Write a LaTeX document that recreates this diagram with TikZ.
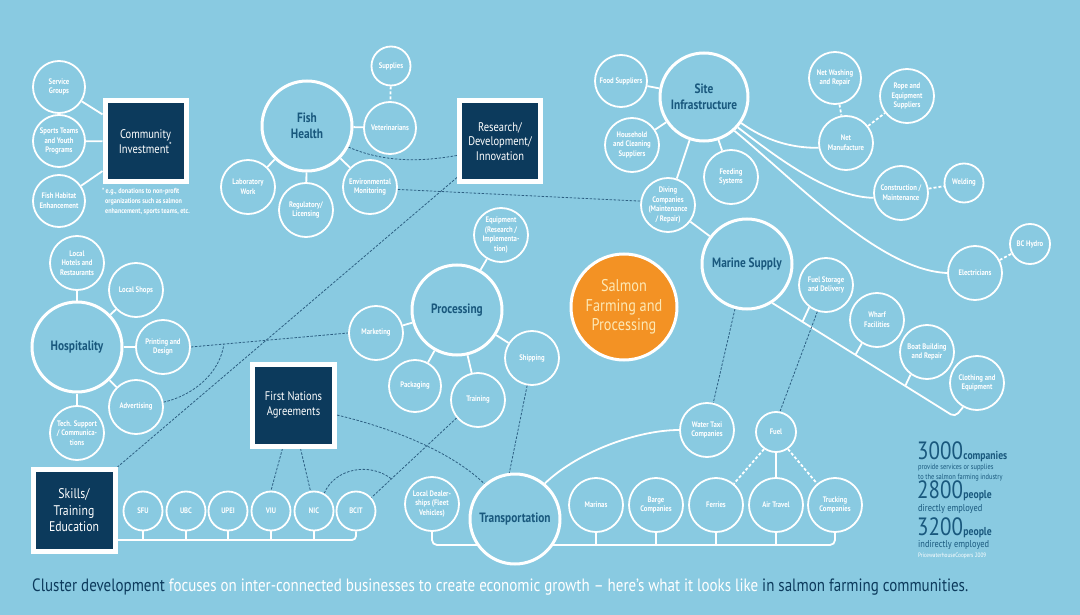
\documentclass[tikz,border=0pt]{standalone}
\usepackage{fontspec}
\setmainfont{PT Sans}[FakeStretch=0.84]
\newfontfamily\capfont{PT Sans}[FakeStretch=0.84,Ligatures=TeX]
\usetikzlibrary{calc}
\definecolor{bgc}{RGB}{137,202,225}
\definecolor{navy}{RGB}{12,58,92}
\definecolor{ttl}{RGB}{25,88,125}
\definecolor{orng}{RGB}{243,146,36}
\definecolor{cream}{RGB}{253,232,180}
\definecolor{dsh}{RGB}{45,95,130}
\pgfdeclarelayer{back}\pgfdeclarelayer{lines}\pgfsetlayers{back,lines,main}
\tikzset{
 smallnode/.style={circle,draw=white,line width=1.8pt,fill=bgc,minimum size=54pt,inner sep=0pt,align=center,text=white,font=\fontsize{8}{9.6}\selectfont\bfseries},
 tinynode/.style={smallnode,minimum size=39pt},
 bignode/.style={circle,draw=white,line width=3pt,fill=bgc,minimum size=90pt,inner sep=0pt,align=center,text=ttl,font=\fontsize{13.5}{15.5}\selectfont\bfseries},
 navybox/.style={rectangle,draw=white,fill=navy,line width=5pt,minimum size=81pt,inner sep=0pt,align=center,text=white,font=\fontsize{12.5}{14.5}\selectfont},
 conn/.style={draw=white,line width=1.8pt},
 wdash/.style={draw=white,line width=1.8pt,dash pattern=on 3pt off 2pt},
 dconn/.style={draw=dsh,line width=0.8pt,dash pattern=on 2.5pt off 1.5pt},
 stat/.style={anchor=base west,inner sep=0pt,text=ttl,text depth=0pt},
}
\begin{document}
\begin{tikzpicture}[x=1pt,y=-1pt]
\begin{pgfonlayer}{back}
\fill[bgc] (0,0) rectangle (1080,615);
\end{pgfonlayer}
\useasboundingbox (0,0) rectangle (1080,615);

% community
\node[smallnode,minimum size=52pt] (sg) at (59,87) {Service\\Groups};
\node[smallnode,minimum size=52pt] (st) at (59,141) {Sports Teams\\and Youth\\Programs};
\node[smallnode,minimum size=52pt] (fhe) at (59,201) {Fish Habitat\\Enhancement};
\node[navybox] (ci) at (145.5,141.5) {Community\\Investment\textsuperscript{*}};
\node[anchor=north west,align=left,text=white,font=\fontsize{7.3}{9.8}\selectfont\bfseries,inner sep=0pt] (note) at (102,188) {*\,e.g., donations to non-profit\\\hspace*{3pt}organizations such as salmon\\\hspace*{3pt}enhancement, sports teams, etc.};

% fish health
\node[bignode] (fish) at (307,126) {Fish\\Health};
\node[tinynode] (sup) at (391,66) {Supplies};
\node[smallnode,minimum size=52pt] (vet) at (390,128) {Veterinarians};
\node[smallnode] (lab) at (248,187) {Laboratory\\Work};
\node[smallnode] (reg) at (306,210) {Regulatory/\\Licensing};
\node[smallnode] (env) at (370,187) {Environmental\\Monitoring};
\node[navybox] (rd) at (500,141.5) {Research/\\Development/\\Innovation};

% site infrastructure
\node[bignode,minimum size=88pt] (si) at (704,97) {Site\\Infrastructure};
\node[smallnode,minimum size=52pt] (food) at (621,81) {Food Suppliers};
\node[smallnode] (hh) at (632,145) {Household\\and Cleaning\\Suppliers};
\node[smallnode] (feed) at (731,177) {Feeding\\Systems};
\node[smallnode] (div) at (668,205) {Diving\\Companies\\(Maintenance\\/ Repair)};
\node[smallnode,minimum size=52pt] (nw) at (835,78) {Net Washing\\and Repair};
\node[smallnode] (rope) at (907,96) {Rope and\\Equipment\\Suppliers};
\node[smallnode] (nm) at (846,143) {Net\\Manufacture};
\node[smallnode] (cm) at (901,193) {Construction /\\Maintenance};
\node[tinynode] (weld) at (964,183) {Welding};
\node[tinynode,minimum size=40pt] (bch) at (1030,244) {BC Hydro};
\node[smallnode] (ele) at (975,273) {Electricians};

% marine supply
\node[bignode] (ms) at (747,264) {Marine Supply};
\node[smallnode] (fs) at (826,285) {Fuel Storage\\and Delivery};
\node[smallnode] (wh) at (877,320) {Wharf\\Facilities};
\node[smallnode] (bb) at (927,352) {Boat Building\\and Repair};
\node[smallnode] (ce) at (977,383) {Clothing and\\Equipment};

% centre
\node[circle,fill=orng,draw=white,line width=3pt,minimum size=106pt,inner sep=0pt,align=center,text=cream,font=\fontsize{17}{19.5}\selectfont] (sal) at (624,307) {Salmon\\Farming and\\Processing};

% processing
\node[bignode] (proc) at (457,310) {Processing};
\node[smallnode] (equ) at (501,235) {Equipment\\(Research /\\Implementa-\\tion)};
\node[smallnode] (mkt) at (376,333) {Marketing};
\node[smallnode,minimum size=52pt] (pack) at (415,386) {Packaging};
\node[smallnode] (trn) at (478,400) {Training};
\node[smallnode] (ship) at (532,358) {Shipping};

% hospitality
\node[bignode] (hosp) at (77,347) {Hospitality};
\node[smallnode] (hot) at (77,263) {Local\\Hotels and\\Restaurants};
\node[smallnode] (shop) at (136,290) {Local Shops};
\node[smallnode] (prt) at (163,347) {Printing and\\Design};
\node[smallnode] (adv) at (136,407) {Advertising};
\node[smallnode] (tech) at (77,433) {Tech. Support\\/ Communica-\\tions};

% first nations, skills
\node[navybox,minimum size=82pt] (fn) at (293.5,405) {First Nations\\Agreements};
\node[navybox,minimum size=82pt,font=\fontsize{14}{16.5}\selectfont] (sk) at (74,510.5) {Skills/\\Training\\Education};
\node[tinynode] (sfu) at (143,511) {SFU};
\node[tinynode] (ubc) at (186,511) {UBC};
\node[tinynode] (upei) at (228,511) {UPEI};
\node[tinynode] (viu) at (271,511) {VIU};
\node[tinynode] (nic) at (314,511) {NIC};
\node[tinynode] (bcit) at (356,511) {BCIT};

% transportation
\node[bignode] (tr) at (515,519) {Transportation};
\node[smallnode] (ld) at (432,504) {Local Dealer-\\ships (Fleet\\Vehicles)};
\node[smallnode] (mar) at (596,505) {Marinas};
\node[smallnode] (bar) at (656,505) {Barge\\Companies};
\node[smallnode] (fer) at (716,505) {Ferries};
\node[smallnode] (air) at (776,505) {Air Travel};
\node[smallnode] (trk) at (835,505) {Trucking\\Companies};
\node[smallnode] (wt) at (707,430) {Water Taxi\\Companies};
\node[tinynode,minimum size=40pt] (fuel) at (776,432) {Fuel};

% stats
\node[stat] (s1) at (917,459) {\fontsize{25}{25}\selectfont 3000\kern0.5pt\fontsize{11.5}{12}\selectfont\bfseries companies};
\node[stat,font=\fontsize{7.6}{8}\selectfont,text height=5pt] (s2) at (918,469.5) {provide services or supplies};
\node[stat,font=\fontsize{7.6}{8}\selectfont,text height=5pt] (s3) at (918,479) {to the salmon farming industry};
\node[stat] (s4) at (917,498.5) {\fontsize{25}{25}\selectfont 2800\kern0.5pt\fontsize{11.5}{12}\selectfont\bfseries people};
\node[stat,font=\fontsize{10}{11}\selectfont,text height=7pt] (s5) at (918,511.5) {directly employed};
\node[stat] (s6) at (917,535) {\fontsize{25}{25}\selectfont 3200\kern0.5pt\fontsize{11.5}{12}\selectfont\bfseries people};
\node[stat,font=\fontsize{10}{11}\selectfont,text height=7pt] (s7) at (918,547.5) {indirectly employed};
\node[stat,text=white,font=\fontsize{6.3}{7}\selectfont,text height=4.5pt] (s8) at (918,557.5) {PricewaterhouseCoopers 2009};

% caption
\node[anchor=base west,inner sep=0pt] (cap) at (32,591) {\resizebox{936pt}{!}{\capfont\fontsize{14}{16}\selectfont\textcolor{navy}{Cluster development} \textcolor{white}{focuses on inter-connected businesses to create economic growth – here’s what it looks like} \textcolor{navy}{in salmon farming communities.}}};

\begin{pgfonlayer}{lines}
% community
\draw[conn] (sg) -- (ci);
\draw[conn] (st) -- (ci);
\draw[conn] (fhe) -- (ci);
% fish health
\draw[conn] (fish) -- (vet);
\draw[conn] (fish) -- (lab);
\draw[conn] (fish) -- (reg);
\draw[conn] (fish) -- (env);
\draw[wdash] (sup) -- (vet);
\draw[dconn] (fish.-27) .. controls (390,165) and (430,160) .. ($(rd.west)+(0,14)$);
\draw[dconn] (env.-5) -- (div.172);
\draw[dconn] ($(rd.south west)+(0,-7)$) -- (sk.north east);
% site
\draw[conn] (si) -- (food);
\draw[conn] (si) -- (hh);
\draw[conn] (si) -- (feed);
\draw[conn] (si) -- (div);
\draw[conn] (div) -- (ms);
\draw[conn] (si.-35) .. controls (765,140) and (790,148) .. (nm.190);
\draw[conn] (si.-42) .. controls (780,160) and (830,197) .. (cm.190);
\draw[conn] (si.-48) .. controls (800,185) and (880,270) .. (ele.west);
\draw[wdash] (nw) -- (nm);
\draw[wdash] (nm) -- (rope);
\draw[wdash] (cm) -- (weld);
\draw[wdash] (ele) -- (bch);
% marine
\coordinate (mE) at (955,417);
\draw[conn,rounded corners=5pt] (ms.-57) -- (mE) -- (ce.-120);
\draw[conn] ($(ms.-57)!0.165!(mE)$) -- (fs.233);
\draw[conn] ($(ms.-57)!0.455!(mE)$) -- (wh.237);
\draw[conn] ($(ms.-57)!0.7275!(mE)$) -- (bb.234);
\draw[dconn] (ms.255) -- (wt.77);
\draw[dconn] (fs.252) -- (fuel.79);
% processing
\draw[conn] (proc) -- (equ);
\draw[conn] (proc) -- (mkt);
\draw[conn] (proc) -- (pack);
\draw[conn] (proc) -- (trn);
\draw[conn] (proc) -- (ship);
\draw[dconn] (ship.260) -- (tr.97);
\draw[dconn] (trn.220) -- (bcit.41);
\coordinate (j2) at ($(trn.220)!0.765!(bcit.41)$);
\draw[dconn] (nic.60) .. controls (335,468) and (370,462) .. (j2);
\draw[dconn] (fn.-13) .. controls (400,430) and (455,455) .. (tr.131);
\draw[dconn] ($(fn.south)+(-11,0)$) -- (viu.north);
\draw[dconn] ($(fn.south)+(7,0)$) -- (nic.100);
% hospitality
\draw[conn] (hosp) -- (hot);
\draw[conn] (hosp) -- (shop);
\draw[conn] (hosp) -- (prt);
\draw[conn] (hosp) -- (adv);
\draw[conn] (hosp) -- (tech);
\draw[dconn] (prt.east) -- (mkt.west);
\coordinate (j1) at ($(prt.east)!0.21!(mkt.west)$);
\draw[dconn] (adv.10) .. controls (195,395) and (220,372) .. (j1);
% skills bus
\coordinate (busA) at (0,540);
\draw[conn,rounded corners=4pt] (sk.east |- busA) -- (bcit.south |- busA) -- (bcit.south);
\foreach \n in {sfu,ubc,upei,viu,nic} {\draw[conn] (\n.south) -- (\n.south |- busA);}
% transport bus
\coordinate (busB) at (0,545);
\draw[conn,rounded corners=5pt] (ld.south) -- (ld.south |- busB) -- (trk.south |- busB) -- (trk.south);
\foreach \n in {mar,bar,fer,air} {\draw[conn] (\n.south) -- (\n.south |- busB);}
\draw[conn] (tr.50) .. controls (580,450) and (640,430) .. (wt.west);
\draw[wdash] (fuel.235) -- (fer.50);
\draw[conn] (fuel) -- (air);
\draw[wdash] (fuel.-55) -- (trk.130);
\end{pgfonlayer}
\end{tikzpicture}
\end{document}
